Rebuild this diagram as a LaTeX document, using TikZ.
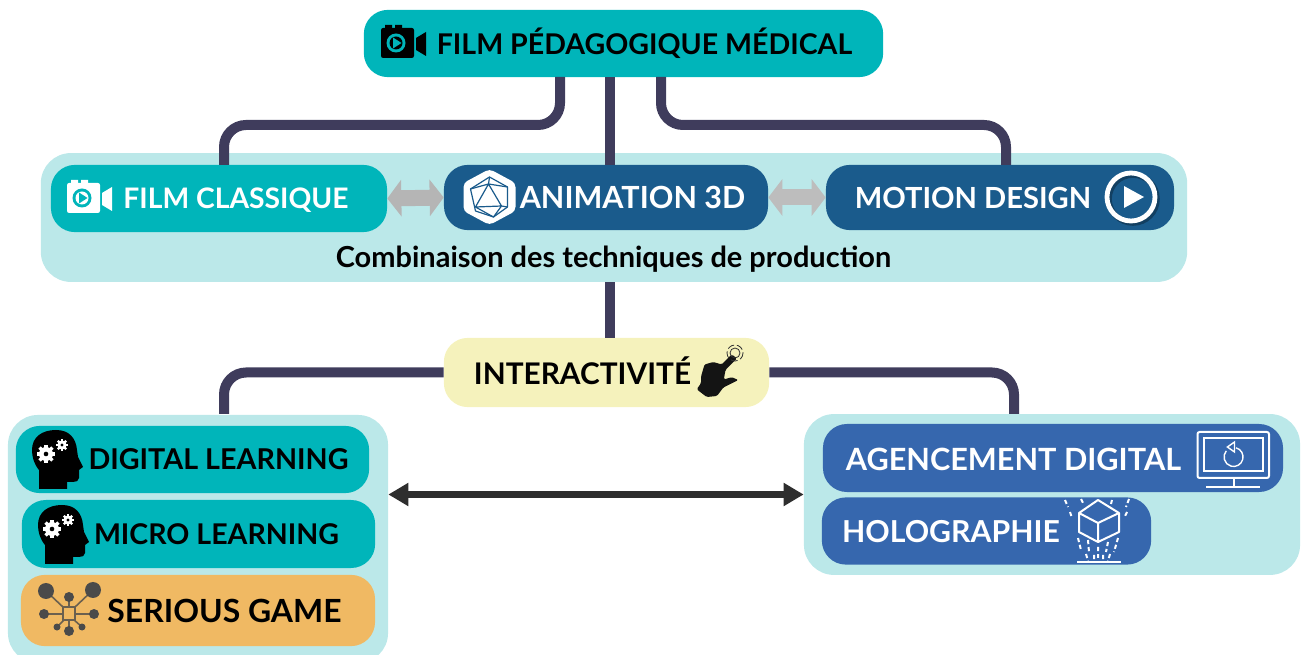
\documentclass[tikz,border=0pt]{standalone}
\usepackage{fontspec}
\setmainfont{Lato}
\usetikzlibrary{arrows.meta}
\definecolor{tealbox}{HTML}{00B5BA}
\definecolor{panelc}{HTML}{BBE8E9}
\definecolor{navybox}{HTML}{1A5B8C}
\definecolor{bluebox}{HTML}{3667AE}
\definecolor{wirec}{HTML}{3F3C5C}
\definecolor{yellowbox}{HTML}{F5F2BC}
\definecolor{orangebox}{HTML}{F0B963}
\definecolor{netc}{HTML}{4A4A4A}
\tikzset{
    panel/.style = {rectangle, rounded corners=0.75cm, fill=panelc},
    box/.style = {rectangle, rounded corners=0.6cm, minimum height=1.68cm},
    boxt/.style = {box, fill=tealbox},
    boxn/.style = {box, fill=navybox},
    boxb/.style = {box, fill=bluebox},
    boxo/.style = {box, fill=orangebox},
    boxy/.style = {box, fill=yellowbox},
    txtk/.style = {inner sep=0pt, anchor=base, font=\fontsize{#1}{24}\selectfont\bfseries, text=black},
    txtw/.style = {inner sep=0pt, anchor=base, font=\fontsize{#1}{24}\selectfont\bfseries, text=white},
    wire/.style = {draw=wirec, line width=0.25cm, rounded corners=0.55cm},
    edgeg/.style = {{Triangle[length=0.35cm,width=0.9cm]}-{Triangle[length=0.35cm,width=0.9cm]}, line width=0.4cm, draw=#1},
    edgek/.style = {{Triangle[length=0.5cm,width=0.55cm]}-{Triangle[length=0.5cm,width=0.55cm]}, line width=0.17cm, draw=black!82},
    iconl/.style = {draw=white, line width=0.05cm},
    pics/camicon/.style 2 args = {code={
        \fill[#1, rounded corners=1.5pt] (0,3) rectangle (33,33);
        \fill[#1] (4,0) rectangle (11,5) (14,0) rectangle (21,5);
        \fill[#1] (35,13) -- (45,7) -- (45,31) -- (35,25) -- cycle;
        \fill[#2] (15,18) circle (9.5);
        \fill[#1] (15,18) circle (6.5);
        \fill[#2] (12,12.5) -- (12,23.5) -- (20.5,18) -- cycle;
    }},
    pics/gearicon/.style = {code={
        \fill[white] (0,0) circle (#1);
        \foreach \a in {0,45,...,315} {\fill[white,rotate=\a] (-0.25*#1,0) rectangle (0.25*#1,1.3*#1);}
        \fill[black] (0,0) circle (0.33*#1);
    }},
    pics/headicon/.style = {code={
        \fill[black] (7,59) -- (7,40) .. controls (2,34) and (0,27) .. (0,20)
            .. controls (0,7) and (10,0) .. (24,0) .. controls (37,0) and (44,8) .. (45,20)
            -- (46,27) -- (51,37) -- (47,40) -- (47,48) .. controls (47,51) and (44,52) .. (41,52)
            -- (35,52) -- (35,59) -- cycle;
        \pic at (14,24) {gearicon=7};
        \pic at (30,15) {gearicon=4.6};
    }},
}

\begin{document}
\begin{tikzpicture}[x=0.025cm,y=-0.025cm]
%
\useasboundingbox (0,0) rectangle (1304,655);
\clip (0,0) rectangle (1304,655);
%
% panels
\node[panel, minimum width=28.65cm, minimum height=3.22cm] at (614,217.5) (panelC) {};
\node[panel, minimum width=9.5cm, minimum height=6.2cm] at (198,539) (panelG) {};
\node[panel, minimum width=12.4cm, minimum height=4.02cm] at (1052,494.5) (panelD) {};
%
% boxes
\node[boxt, minimum width=12.98cm] at (623.5,43.5) (film) {};
\node[boxt, minimum width=8.4cm] at (219,198.5) (classique) {};
\node[boxn, minimum width=8.1cm, minimum height=1.63cm] at (606,197.5) (anim) {};
\node[boxn, minimum width=8.7cm, minimum height=1.63cm] at (1000,197.5) (motion) {};
\node[boxy, minimum width=8.13cm, minimum height=1.73cm] at (606.5,372.5) (inter) {};
\node[boxt, minimum width=8.83cm] at (192.5,459.5) (digital) {};
\node[boxt, minimum width=8.83cm, minimum height=1.7cm] at (198.5,534) (micro) {};
\node[boxo, minimum width=8.85cm, minimum height=1.78cm] at (198,610.5) (serious) {};
\node[boxb, minimum width=11.5cm, minimum height=1.7cm] at (1053,458) (agence) {};
\node[boxb, minimum width=8.23cm] at (986.5,531) (holo) {};
%
% texts
\node[txtk=20.3] at (644.5,54.5) (filmT) {FILM PÉDAGOGIQUE MÉDICAL};
\node[txtw=20.1] at (236,209) (classiqueT) {FILM CLASSIQUE};
\node[txtw=21.7] at (632.5,209) (animT) {ANIMATION 3D};
\node[txtw=20.7] at (973,209) (motionT) {MOTION DESIGN};
\node[txtk=20.6] at (613.5,267.5) (combiT) {Combinaison des techniques de production};
\node[txtk=21.2] at (582.5,385) (interT) {INTERACTIVITÉ};
\node[txtk=20.4] at (218.5,470) (digitalT) {DIGITAL LEARNING};
\node[txtk=20.3] at (216.5,545) (microT) {MICRO LEARNING};
\node[txtk=22.7] at (224.5,623) (seriousT) {SERIOUS GAME};
\node[txtw=21.8] at (1013.5,470.5) (agenceT) {AGENCEMENT DIGITAL};
\node[txtw=21.5] at (951,543) (holoT) {HOLOGRAPHIE};
%
% connectors
\coordinate (tl) at (560,77);
\coordinate (tr) at (661,77);
\coordinate (cl) at (224,165);
\coordinate (cr) at (1006,165);
\coordinate (dl) at (224,414);
\coordinate (dr) at (1014,414);
\draw[wire] (tl) -- ++(0,48) -| (cl);
\draw[wire] (tr) -- ++(0,48) -| (cr);
\draw[wire] (anim.north -| 610,0) -- (610,77);
\draw[wire] (panelC.south -| 610,0) -- (inter.north -| 610,0);
\draw[wire] (inter.west) -| (dl);
\draw[wire] (inter.east) -| (dr);
\draw[edgeg={black!29}] (classique.east) -- (anim.west);
\draw[edgeg={black!26}] (anim.east) -- (motion.west);
\draw[edgek] (panelD.west -| panelG.east) -- (panelD.west);
%
% icons
\pic at (381,25) {camicon={black}{tealbox}};
\pic at (67,180) {camicon={white}{tealbox}};
\pic at (32,430) {headicon};
\pic at (38,505) {headicon};
%
% icosahedron
\begin{scope}[shift={(489.5,197)}]
\fill[white, rounded corners=3pt] (0,-28) -- (26,-14) -- (26,14) -- (0,28) -- (-26,14) -- (-26,-14) -- cycle;
\draw[navybox, line width=0.03cm, line join=round] (0,-20) -- (18,-10) -- (18,10) -- (4,20) -- (-14,14) -- (-19,-8) -- cycle;
\draw[navybox, line width=0.03cm, line join=round] (-1,-13) -- (12,9) -- (-14,10) -- cycle
    (-1,-13) -- (0,-20) (-1,-13) -- (18,-10) (-1,-13) -- (-19,-8) (12,9) -- (18,10) (12,9) -- (4,20) (-14,10) -- (4,20);
\end{scope}
%
% play button
\draw[black, opacity=0.3, line width=0.14cm] (1133,199) circle (24);
\draw[white, line width=0.12cm] (1131,197) circle (24);
\fill[white] (1124,186) -- (1144,197) -- (1124,208) -- cycle;
%
% hand
\fill[black!92, rounded corners=1pt] (696.7,389.3) -- (706.7,397) -- (717,396) -- (723.3,387.5) -- (738.3,380)
    -- (731.7,377.2) -- (723.8,379.5) -- (725.5,370) -- (737,358.3) -- (731.7,354.5) -- (721.7,364.5)
    -- (713.3,362) -- (704.5,364.5) -- (701,376.7) -- (701,383.3) -- cycle;
\draw[black!80, line width=0.02cm] (735,353) circle (5);
\draw[black!80, line width=0.02cm, dash pattern=on 5pt off 2pt] (735,353) circle (8);
%
% network
\draw[netc!80!orangebox, line width=0.04cm] (46,591) -- (64,608) (93,590) -- (74,608) (69,597) -- (69,613) (44,614) -- (94,614)
    (69,613) -- (69,631) (57,627) -- (65,619) (82,627) -- (73,619);
\fill[netc] (46,591) circle (8) (93,590) circle (8) (69,597) circle (5) (44,614) circle (5)
    (94,614) circle (5) (69,631) circle (5) (57,627) circle (3.5) (82,627) circle (3.5);
\draw[netc!80!orangebox, fill=orangebox, line width=0.04cm] (63,607) rectangle (75,620);
%
% monitor
\draw[iconl, rounded corners=1.5pt] (1197.5,432) rectangle (1269,478);
\draw[iconl] (1204,438) rectangle (1263,471);
\draw[iconl] (1233.5,478) -- (1233.5,487) (1206,487) -- (1260,487);
\draw[iconl, line width=0.035cm] (1236,447.8) arc (-75:220:9.5);
\draw[iconl, line width=0.035cm] (1227.4,447) -- (1234.5,442) -- (1234.5,452) -- cycle;
%
% holographic cube
\draw[iconl, line join=round] (1098,500) -- (1119,513) -- (1119,532) -- (1098,542) -- (1079,532) -- (1079,513) -- cycle
    (1079,513) -- (1098,523) -- (1119,513) (1098,523) -- (1098,542);
\draw[iconl] (1077,562) -- (1121,562);
\draw[iconl, dash pattern=on 3pt off 2pt] (1065,500) -- (1068,507) (1081,499) -- (1083,503) (1070,512) -- (1072,518)
    (1112,500) -- (1111,504) (1129,499) -- (1126,507) (1127,512) -- (1124,518)
    (1078,538) -- (1081,550) (1088,540) -- (1089,552) (1098,547) -- (1098,558) (1108,542) -- (1106,552) (1118,538) -- (1114,552)
    (1086,554) -- (1088,561) (1094,555) -- (1094,561) (1103,555) -- (1103,561) (1110,554) -- (1108,561);
\end{tikzpicture}
\end{document}
